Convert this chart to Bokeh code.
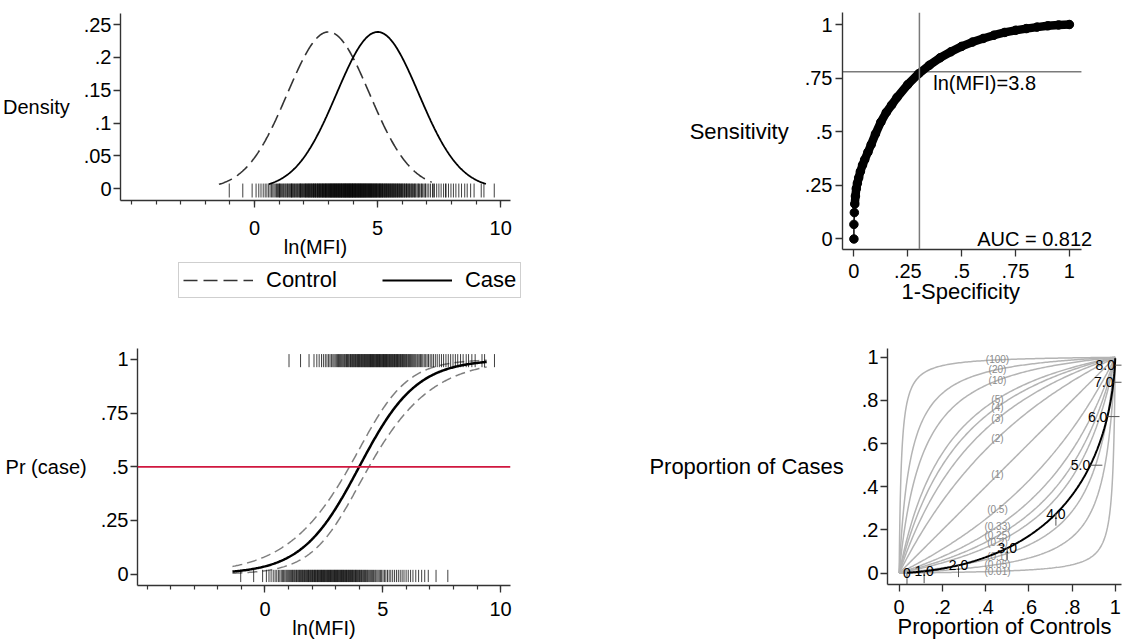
import math
import numpy as np
from bokeh.plotting import figure
from bokeh.layouts import row, column
from bokeh.models import FixedTicker, Label, Legend, LegendItem, Span, Title
from bokeh.embed import file_html
from bokeh.resources import INLINE
from bokeh.core.properties import value

FONT = "Liberation Sans"
AXC = "#333333"

# ---------------- data ----------------
# Top-left: binormal density fit of ln(MFI) by group
control_mean = 3.0
case_mean = 5.0
group_sd = 1.67
control_curve_range = [-1.45, 7.2]
case_curve_range = [0.58, 9.4]

control_rug = [-1.03, -0.48, -0.1, 0.06, 0.17, 0.26, 0.35, 0.43, 0.5, 0.57, 0.63, 0.69, 0.74, 0.79,
               0.84, 0.89, 0.93, 0.97, 1.01, 1.05, 1.09, 1.13, 1.17, 1.2, 1.24, 1.27, 1.31, 1.34,
               1.37, 1.41, 1.44, 1.47, 1.5, 1.53, 1.56, 1.59, 1.62, 1.65, 1.68, 1.71, 1.74, 1.77,
               1.8, 1.83, 1.85, 1.88, 1.91, 1.94, 1.96, 1.99, 2.02, 2.04, 2.07, 2.1, 2.12, 2.15,
               2.17, 2.2, 2.23, 2.25, 2.28, 2.3, 2.33, 2.35, 2.38, 2.4, 2.43, 2.45, 2.48, 2.5,
               2.53, 2.55, 2.58, 2.6, 2.63, 2.65, 2.68, 2.7, 2.73, 2.75, 2.78, 2.8, 2.83, 2.85,
               2.88, 2.9, 2.93, 2.95, 2.98, 3.0, 3.03, 3.05, 3.08, 3.1, 3.13, 3.15, 3.18, 3.2,
               3.23, 3.25, 3.28, 3.3, 3.33, 3.35, 3.38, 3.41, 3.43, 3.46, 3.48, 3.51, 3.54, 3.56,
               3.59, 3.62, 3.64, 3.67, 3.7, 3.72, 3.75, 3.78, 3.81, 3.84, 3.86, 3.89, 3.92, 3.95,
               3.98, 4.01, 4.04, 4.07, 4.1, 4.13, 4.17, 4.2, 4.23, 4.27, 4.3, 4.34, 4.37, 4.41,
               4.45, 4.49, 4.53, 4.57, 4.61, 4.66, 4.7, 4.75, 4.8, 4.85, 4.9, 4.95, 5.01, 5.07,
               5.13, 5.2, 5.27, 5.34, 5.42, 5.5, 5.58, 5.66, 5.74, 5.82, 5.9, 5.99, 6.08, 6.18,
               6.28, 6.4, 6.52, 6.65, 6.78, 6.93, 7.26, 7.76]

case_rug = [1.02, 1.51, 1.87, 2.08, 2.2, 2.3, 2.4, 2.48, 2.56, 2.63, 2.7, 2.76, 2.82, 2.88, 2.93,
            2.98, 3.03, 3.08, 3.12, 3.16, 3.2, 3.24, 3.28, 3.32, 3.36, 3.39, 3.43, 3.46, 3.5, 3.53,
            3.56, 3.6, 3.63, 3.66, 3.69, 3.72, 3.75, 3.78, 3.81, 3.84, 3.87, 3.9, 3.93, 3.96, 3.98,
            4.01, 4.04, 4.07, 4.09, 4.12, 4.15, 4.17, 4.2, 4.23, 4.25, 4.28, 4.3, 4.33, 4.36, 4.38,
            4.41, 4.43, 4.46, 4.48, 4.51, 4.53, 4.56, 4.58, 4.61, 4.63, 4.66, 4.68, 4.71, 4.73,
            4.76, 4.78, 4.81, 4.83, 4.86, 4.88, 4.91, 4.93, 4.96, 4.98, 5.01, 5.03, 5.06, 5.08,
            5.11, 5.13, 5.16, 5.18, 5.21, 5.23, 5.26, 5.29, 5.31, 5.34, 5.36, 5.39, 5.42, 5.44,
            5.47, 5.5, 5.52, 5.55, 5.58, 5.61, 5.63, 5.66, 5.69, 5.72, 5.75, 5.78, 5.81, 5.84,
            5.87, 5.9, 5.93, 5.97, 6.0, 6.03, 6.07, 6.1, 6.14, 6.17, 6.21, 6.25, 6.29, 6.33,
            6.37, 6.41, 6.46, 6.5, 6.55, 6.6, 6.65, 6.7, 6.76, 6.82, 6.88, 6.94, 7.01, 7.08,
            7.15, 7.23, 7.31, 7.4, 7.49, 7.58, 7.68, 7.78, 7.88, 7.98, 8.08, 8.18, 8.3, 8.41,
            8.54, 8.64, 8.78, 8.92, 9.21, 9.32, 9.74]

# Bottom-left: logistic fit of Pr(case) on ln(MFI) with 95% CI
logit_intercept = -3.28
logit_slope = 0.82
ci_center = 4.0
ci_half_base = 0.109
ci_half_growth = 0.039
fit_range = [-1.38, 9.41]
pr_reference = 0.5

# Top-right: empirical ROC curve
roc_fpr = [0.0, 0.0, 0.002, 0.004, 0.007, 0.011, 0.016, 0.022, 0.03, 0.04, 0.05, 0.065, 0.08,
           0.1, 0.125, 0.15, 0.175, 0.2, 0.25, 0.3, 0.35, 0.4, 0.45, 0.5, 0.55, 0.6, 0.65, 0.7,
           0.75, 0.8, 0.85, 0.9, 0.95, 1.0]
roc_tpr = [0.0, 0.068, 0.123, 0.163, 0.2, 0.235, 0.26, 0.285, 0.315, 0.345, 0.37, 0.405, 0.44,
           0.49, 0.545, 0.59, 0.625, 0.66, 0.72, 0.77, 0.81, 0.845, 0.873, 0.898, 0.918, 0.935,
           0.95, 0.963, 0.973, 0.981, 0.988, 0.994, 0.998, 1.0]
cutoff_fpr = 0.304
cutoff_tpr = 0.78
cutoff_text = "ln(MFI)=3.8"
auc_text = "AUC = 0.812"

# Bottom-right: odds-ratio contours and the fitted curve
odds_ratios = [0.01, 0.05, 0.1, 0.2, 0.25, 0.33, 0.5, 1, 2, 3, 4, 5, 10, 20, 100]
odds_ratio_labels = ["(0.01)", "(0.05)", "(0.1)", "(0.2)", "(0.25)", "(0.33)", "(0.5)", "(1)",
                     "(2)", "(3)", "(4)", "(5)", "(10)", "(20)", "(100)"]
or_label_x = 0.455
thresholds = [0, 1, 2, 3, 4, 5, 6, 7, 8]
threshold_labels = ["0", "1.0", "2.0", "3.0", "4.0", "5.0", "6.0", "7.0", "8.0"]
threshold_range = [0.0, 9.4]
legend_labels = ["Control", "Case"]


# ---------------- helpers ----------------
def ncdf(z):
    return 0.5 * (1.0 + math.erf(z / math.sqrt(2.0)))


def npdf(x, m, s):
    return math.exp(-0.5 * ((x - m) / s) ** 2) / (s * math.sqrt(2 * math.pi))


def make_fig(w, h, xr, yr, bl, br, bt, bb):
    p = figure(width=w, height=h, x_range=xr, y_range=yr, output_backend="svg",
               toolbar_location=None, tools="", title=None,
               min_border_left=bl, min_border_right=br, min_border_top=bt, min_border_bottom=bb)
    try:
        p.frame_align = False
    except Exception:
        pass
    p.outline_line_color = None
    p.xgrid.visible = False
    p.ygrid.visible = False
    p.background_fill_color = "white"
    p.border_fill_color = "white"
    for ax in (p.xaxis[0], p.yaxis[0]):
        ax.axis_line_color = AXC
        ax.axis_line_width = 1.4
        ax.major_tick_line_color = AXC
        ax.major_tick_line_width = 1.3
        ax.major_tick_in = 0
        ax.major_tick_out = 7
        ax.minor_tick_in = 0
        ax.minor_tick_out = 4
        ax.minor_tick_line_color = AXC
        ax.minor_tick_line_width = 1.2
        ax.major_label_text_font = FONT
        ax.major_label_text_font_size = "20px"
        ax.major_label_text_color = "black"
        ax.axis_label_text_font = FONT
        ax.axis_label_text_font_size = "20px"
        ax.axis_label_text_font_style = "normal"
        ax.axis_label_text_color = "black"
    p.yaxis[0].major_label_standoff = 2
    return p


def set_ticks(axis, ticks, labels, minor=None):
    axis.ticker = FixedTicker(ticks=ticks, minor_ticks=minor or [])
    axis.major_label_overrides = {t: l for t, l in zip(ticks, labels)}


def set_titles(p, xtitle, ytitle, x_label_standoff, x_title_standoff, y_title_standoff,
               size="20px"):
    if xtitle is not None:
        p.xaxis[0].axis_label = xtitle
        p.xaxis[0].axis_label_standoff = x_title_standoff
        p.xaxis[0].axis_label_text_font_size = size
    p.xaxis[0].major_label_standoff = x_label_standoff
    p.yaxis[0].axis_label = ytitle
    p.yaxis[0].axis_label_standoff = y_title_standoff
    p.yaxis[0].axis_label_text_font_size = size
    try:
        p.yaxis[0].axis_label_orientation = "horizontal"
    except Exception:
        pass


# ---------------- top-left: densities ----------------
p1 = make_fig(600, 260, (-5.45, 10.4), (-0.0178, 0.267), 120, 90, 13, 60)
set_ticks(p1.xaxis[0], [0, 5, 10], ["0", "5", "10"], list(range(-5, 11)))
set_ticks(p1.yaxis[0], [0, 0.05, 0.1, 0.15, 0.2, 0.25], ["0", ".05", ".1", ".15", ".2", ".25"])
set_titles(p1, "ln(MFI)", "Density", 13, -2, 11)

CTRL_STYLE = dict(line_color="#333333", line_width=1.6, line_dash="14 6")
CASE_STYLE = dict(line_color="black", line_width=1.8)

xc = np.linspace(control_curve_range[0], control_curve_range[1], 300)
yc = [npdf(v, control_mean, group_sd) for v in xc]
xk = np.linspace(case_curve_range[0], case_curve_range[1], 300)
yk = [npdf(v, case_mean, group_sd) for v in xk]
p1.line(xc, yc, **CTRL_STYLE)
p1.line(xk, yk, **CASE_STYLE)

all_rug = control_rug + case_rug
p1.segment(x0=all_rug, y0=[-0.0132] * len(all_rug), x1=all_rug, y1=[0.008] * len(all_rug),
           line_color="black", line_width=1, line_alpha=0.75)

# legend strip below the top-left panel (its key lines reuse the curves, kept out of view)
pleg = figure(width=600, height=60, x_range=(100, 101), y_range=(100, 101),
              output_backend="svg", toolbar_location=None, tools="", title=None, min_border=0,
              x_axis_type=None, y_axis_type=None)
try:
    pleg.frame_align = False
except Exception:
    pass
pleg.outline_line_color = None
pleg.background_fill_color = "white"
pleg.border_fill_color = "white"
lg_ctrl = pleg.line(xc, yc, **CTRL_STYLE)
lg_case = pleg.line(xk, yk, **CASE_STYLE)
legend = Legend(items=[LegendItem(label=legend_labels[0], renderers=[lg_ctrl]),
                       LegendItem(label=legend_labels[1], renderers=[lg_case])],
                orientation="horizontal", location=(178, 22),
                border_line_color="#a0a0a0", border_line_width=1.5,
                background_fill_color="white", background_fill_alpha=1.0,
                label_text_font=FONT, label_text_font_size="22px", label_text_color="black",
                glyph_width=70, glyph_height=20, label_standoff=13, spacing=45,
                padding=4, margin=0)
pleg.add_layout(legend)

# ---------------- top-right: ROC ----------------
tr_x_lo, tr_x_hi = -0.053, 1.056
p2 = make_fig(522, 320, (tr_x_lo, 1.112), (-0.049, 1.056), 242, 29, 12, 71)
p2.xaxis[0].bounds = (tr_x_lo, tr_x_hi)
set_ticks(p2.xaxis[0], [0, 0.25, 0.5, 0.75, 1], ["0", ".25", ".5", ".75", "1"])
set_ticks(p2.yaxis[0], [0, 0.25, 0.5, 0.75, 1], ["0", ".25", ".5", ".75", "1"])
p2.yaxis[0].major_label_standoff = 3
set_titles(p2, None, "Sensitivity", 7, 0, 13, size="22px")
p2.add_layout(Title(text="1-Specificity", align="left", offset=59, vertical_align="top",
                    standoff=-3, text_font=FONT, text_font_size="22px",
                    text_font_style="normal", text_color="black"), "below")
p2.add_layout(Span(location=cutoff_fpr, dimension="height", line_color="#7a7a7a", line_width=1.5))
p2.segment(x0=[tr_x_lo], y0=[cutoff_tpr], x1=[tr_x_hi], y1=[cutoff_tpr],
           line_color="#7a7a7a", line_width=1.5)
p2.line(roc_fpr, roc_tpr, line_color="black", line_width=1.5)
p2.line(roc_fpr[3:], roc_tpr[3:], line_color="black", line_width=8.5,
        line_join="round", line_cap="round")
p2.scatter(roc_fpr, roc_tpr, size=8.5, fill_color="black", line_color="black")
p2.add_layout(Label(x=0.368, y=0.725, text=cutoff_text, text_font=FONT, text_font_size="20px",
                    text_align="left", text_baseline="middle", text_color="black"))
p2.add_layout(Label(x=1.106, y=0.0, text=auc_text, text_font=FONT, text_font_size="20px",
                    text_align="right", text_baseline="middle", text_color="black"))

# ---------------- bottom-left: logistic fit ----------------
p3 = make_fig(600, 321, (-5.41, 10.42), (-0.053, 1.051), 137, 90, 28, 56)
set_ticks(p3.xaxis[0], [0, 5, 10], ["0", "5", "10"], list(range(-5, 11)))
set_ticks(p3.yaxis[0], [0, 0.25, 0.5, 0.75, 1], ["0", ".25", ".5", ".75", "1"])
set_titles(p3, "ln(MFI)", "Pr (case)", 9, -2, 11)
p3.add_layout(Span(location=pr_reference, dimension="width", line_color="#d0173f", line_width=1.8))

xf = np.linspace(fit_range[0], fit_range[1], 300)
eta = logit_intercept + logit_slope * xf
half = np.sqrt(ci_half_base + ci_half_growth * (xf - ci_center) ** 2)
pf = 1 / (1 + np.exp(-eta))
pu = 1 / (1 + np.exp(-(eta + half)))
pl = 1 / (1 + np.exp(-(eta - half)))
p3.line(xf, pu, line_color="#7f7f7f", line_width=1.5, line_dash="10 5")
p3.line(xf, pl, line_color="#7f7f7f", line_width=1.5, line_dash="10 5")
p3.line(xf, pf, line_color="black", line_width=2.5)

p3.segment(x0=case_rug, y0=[0.964] * len(case_rug), x1=case_rug, y1=[1.025] * len(case_rug),
           line_color="black", line_width=1, line_alpha=0.75)
p3.segment(x0=control_rug, y0=[-0.037] * len(control_rug), x1=control_rug,
           y1=[0.02] * len(control_rug), line_color="black", line_width=1, line_alpha=0.75)

# ---------------- bottom-right: proportions ----------------
p4 = make_fig(522, 321, (-0.054, 1.029), (-0.053, 1.041), 287, 1, 28, 56)
ticks01 = [0, 0.2, 0.4, 0.6, 0.8, 1]
labs01 = ["0", ".2", ".4", ".6", ".8", "1"]
set_ticks(p4.xaxis[0], ticks01, labs01)
set_ticks(p4.yaxis[0], ticks01, labs01)
set_titles(p4, "Proportion of Controls", "Proportion of Cases", 8, -3, 15, size="22px")

xs = np.concatenate([[0.0], np.geomspace(1e-5, 0.05, 80), np.linspace(0.05, 0.95, 120)[1:-1],
                     1 - np.geomspace(0.05, 1e-5, 80), [1.0]])
for orv in odds_ratios:
    ys = orv * xs / (1 - xs + orv * xs)
    p4.line(xs, ys, line_color="#b4b4b4", line_width=1.5)
lab_y = [orv * or_label_x / (1 - or_label_x + orv * or_label_x) for orv in odds_ratios]
p4.text(x=[or_label_x] * len(odds_ratios), y=lab_y, text=odds_ratio_labels,
        text_font=value(FONT), text_font_size="10px", text_color="#8c8c8c",
        text_align="center", text_baseline="middle")

tt = np.linspace(threshold_range[0], threshold_range[1], 400)
bx = [ncdf((t - control_mean) / group_sd) for t in tt]
by = [ncdf((t - case_mean) / group_sd) for t in tt]
p4.line(bx, by, line_color="black", line_width=2)

tx = [ncdf((t - control_mean) / group_sd) for t in thresholds]
ty = [ncdf((t - case_mean) / group_sd) for t in thresholds]
low = [i for i, t in enumerate(thresholds) if t <= 4]
high = [i for i, t in enumerate(thresholds) if t > 4]
p4.segment(x0=[tx[i] for i in low], y0=[ty[i] for i in low], x1=[tx[i] for i in low],
           y1=[ty[i] - 0.055 for i in low], line_color="#555555", line_width=1)
p4.segment(x0=[tx[i] for i in high], y0=[ty[i] for i in high], x1=[tx[i] + 0.056 for i in high],
           y1=[ty[i] for i in high], line_color="#555555", line_width=1)
p4.text(x=[tx[i] for i in low], y=[ty[i] for i in low], text=[threshold_labels[i] for i in low],
        text_font=value(FONT), text_font_size="14px", text_color="black",
        text_align="center", text_baseline="alphabetic")
p4.text(x=[tx[i] for i in high], y=[ty[i] for i in high], text=[threshold_labels[i] for i in high],
        text_font=value(FONT), text_font_size="14px", text_color="black",
        text_align="right", text_baseline="middle")

layout = column(row(column(p1, pleg), p2), row(p3, p4))
open("out.html", "w").write(file_html(layout, INLINE))
